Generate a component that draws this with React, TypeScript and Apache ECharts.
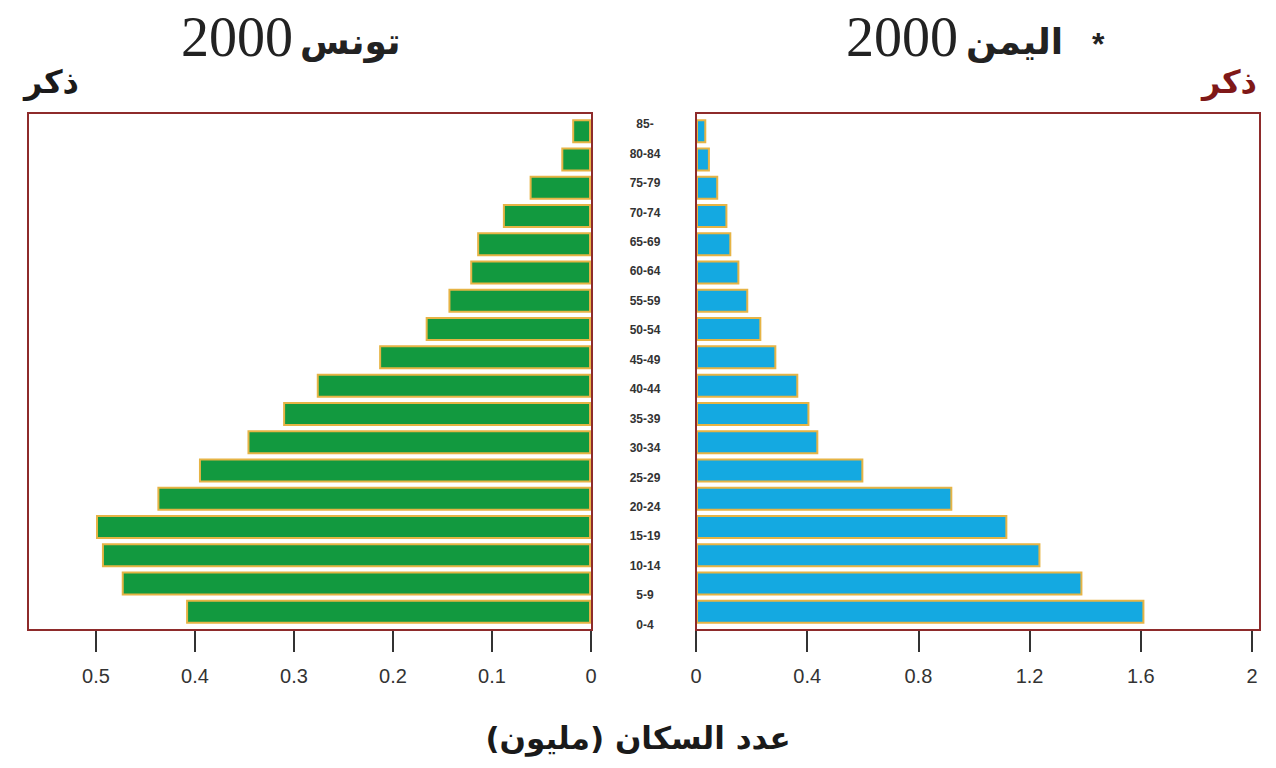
import React, { useEffect, useRef } from "react";
import * as echarts from "echarts";

const ageGroups = [
  "0-4", "5-9", "10-14", "15-19", "20-24", "25-29", "30-34", "35-39", "40-44",
  "45-49", "50-54", "55-59", "60-64", "65-69", "70-74", "75-79", "80-84", "85-",
];
const tunisiaMale = [
  0.409, 0.474, 0.494, 0.5, 0.438, 0.396, 0.347, 0.311, 0.277,
  0.214, 0.167, 0.144, 0.122, 0.115, 0.089, 0.062, 0.03, 0.019,
];
const yemenMale = [
  1.613, 1.39, 1.239, 1.12, 0.922, 0.602, 0.44, 0.408, 0.368,
  0.289, 0.235, 0.188, 0.156, 0.127, 0.113, 0.08, 0.05, 0.037,
];
const tunisiaTicks = [0, 0.1, 0.2, 0.3, 0.4, 0.5];
const yemenTicks = [0, 0.4, 0.8, 1.2, 1.6, 2];

const leftTitle = "تونس";
const rightTitle = "اليمن";
const yearText = "2000";
const maleText = "ذكر";
const xAxisTitle = "\u200Fعدد السكان (مليون)\u200F";

const ARABIC_FONT = "'DejaVu Sans', sans-serif";
const BOX = "#8e2b2b";

export default function App() {
  const ref = useRef<HTMLDivElement>(null);
  useEffect(() => {
    if (!ref.current) return;
    const chart = echarts.init(ref.current, undefined, { renderer: "svg" });
    const tickLabel = {
      fontFamily: "'Liberation Sans', Arial, sans-serif",
      fontSize: 20,
      color: "#333",
      margin: 36,
    };
    const barStyle = (color: string) => ({
      color,
      borderColor: "#e6b445",
      borderWidth: 2,
    });
    chart.setOption({
      animation: false,
      backgroundColor: "#ffffff",
      grid: [
        { left: 28, top: 117, width: 563, height: 509 },
        { left: 696, top: 117, width: 564, height: 509 },
        { left: 600, top: 109.5, width: 1, height: 530 },
      ],
      xAxis: [
        {
          type: "value",
          gridIndex: 0,
          inverse: true,
          min: 0,
          max: 563 / 990,
          offset: 4,
          axisLine: { show: false },
          splitLine: { show: false },
          axisTick: {
            show: true,
            length: 22,
            customValues: tunisiaTicks,
            lineStyle: { color: "#333", width: 2 },
          },
          axisLabel: { ...tickLabel, customValues: tunisiaTicks },
        },
        {
          type: "value",
          gridIndex: 1,
          min: 0,
          max: 564 / 278,
          offset: 4,
          axisLine: { show: false },
          splitLine: { show: false },
          axisTick: {
            show: true,
            length: 22,
            customValues: yemenTicks,
            lineStyle: { color: "#333", width: 2 },
          },
          axisLabel: { ...tickLabel, customValues: yemenTicks },
        },
        { type: "value", gridIndex: 2, show: false },
      ],
      yAxis: [
        {
          type: "category",
          gridIndex: 0,
          data: ageGroups,
          axisLine: { show: false },
          axisTick: { show: false },
          axisLabel: { show: false },
        },
        {
          type: "category",
          gridIndex: 1,
          data: ageGroups,
          axisLine: { show: false },
          axisTick: { show: false },
          axisLabel: { show: false },
        },
        {
          type: "category",
          gridIndex: 2,
          data: ageGroups,
          position: "right",
          axisLine: { show: false },
          axisTick: { show: false },
          axisLabel: {
            align: "center",
            margin: 44,
            fontFamily: "'Liberation Sans Narrow', 'Liberation Sans', Arial, sans-serif",
            fontWeight: "bold",
            fontSize: 12,
            color: "#333",
          },
        },
      ],
      series: [
        {
          type: "bar",
          xAxisIndex: 0,
          yAxisIndex: 0,
          data: tunisiaMale,
          barWidth: 24,
          itemStyle: barStyle("#12993f"),
        },
        {
          type: "bar",
          xAxisIndex: 1,
          yAxisIndex: 1,
          data: yemenMale,
          barWidth: 24,
          itemStyle: barStyle("#14a9e1"),
        },
      ],
      graphic: [
        {
          type: "rect",
          z: 100,
          shape: { x: 28, y: 113, width: 564, height: 517 },
          style: { fill: "none", stroke: BOX, lineWidth: 2 },
        },
        {
          type: "rect",
          z: 100,
          shape: { x: 696, y: 113, width: 564, height: 517 },
          style: { fill: "none", stroke: BOX, lineWidth: 2 },
        },
        {
          type: "text",
          left: 181,
          top: 9,
          style: { text: yearText, font: "56px 'Liberation Serif', serif", fill: "#222" },
        },
        {
          type: "text",
          left: 300,
          top: 23,
          style: { text: leftTitle, font: `bold 36px ${ARABIC_FONT}`, fill: "#222" },
        },
        {
          type: "text",
          left: 846,
          top: 9,
          style: { text: yearText, font: "56px 'Liberation Serif', serif", fill: "#222" },
        },
        {
          type: "text",
          left: 966,
          top: 23,
          style: { text: rightTitle, font: `bold 36px ${ARABIC_FONT}`, fill: "#222" },
        },
        {
          type: "text",
          left: 1092,
          top: 28,
          style: { text: "*", font: "bold 32px 'Liberation Sans', sans-serif", fill: "#222" },
        },
        {
          type: "text",
          left: 24,
          top: 66,
          style: { text: maleText, font: `bold 32px ${ARABIC_FONT}`, fill: "#1a1a1a" },
        },
        {
          type: "text",
          left: 1202,
          top: 66,
          style: { text: maleText, font: `bold 32px ${ARABIC_FONT}`, fill: "#7f1818" },
        },
        {
          type: "text",
          left: "center",
          top: 722,
          style: { text: xAxisTitle, font: `bold 31px ${ARABIC_FONT}`, fill: "#1a1a1a" },
        },
      ],
    });
    return () => chart.dispose();
  }, []);
  return <div ref={ref} style={{ width: 1276, height: 768, position: "absolute", left: 0, top: 0 }} />;
}
